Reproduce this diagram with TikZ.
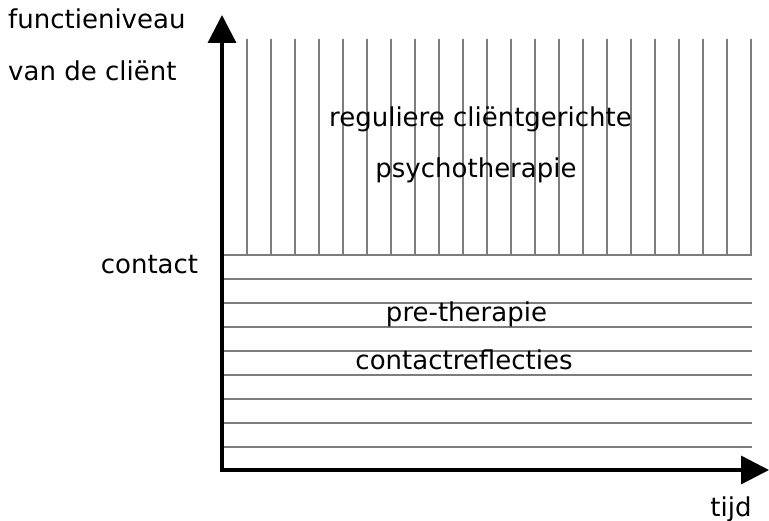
\documentclass[tikz,border=0pt]{standalone}
\usepackage{fontspec}
\setmainfont{DejaVu Sans}
\usetikzlibrary{arrows.meta}
\tikzset{
  axis/.style={line width=3.3pt, black, -{Triangle[length=28pt,width=28pt]}},
  grid line/.style={line width=2pt, color={rgb,255:red,125;green,125;blue,125}},
  lbl/.style={inner sep=0pt, font=\fontsize{26pt}{30pt}\selectfont},
}
\begin{document}
\begin{tikzpicture}[x=1pt,y=-1pt]
\useasboundingbox (0,0) rectangle (769,521);
% hatching
\foreach \k in {0,...,21}{
  \draw[grid line] ({247.3+24*\k},39) -- ({247.3+24*\k},254.7);
}
\foreach \j in {0,...,8}{
  \draw[grid line] (222,{254.7+24*\j}) -- (751.7,{254.7+24*\j});
}
% axes
\coordinate (o) at (222,470);
\coordinate (ytip) at (222,15);
\coordinate (xtip) at (769,470);
\draw[axis] ([yshift=-1.65pt]o) -- (ytip);
\draw[axis] ([xshift=-1.65pt]o) -- (xtip);
% labels
\node[lbl, anchor=base west] (f1) at (8,29) {functieniveau};
\node[lbl, anchor=base west] (f2) at (8,81) {van de cliënt};
\node[lbl, anchor=base] (r1) at (480.5,127) {reguliere cliëntgerichte};
\node[lbl, anchor=base] (r2) at (476,178) {psychotherapie};
\node[lbl, anchor=base east] (c) at (198.3,273.3) {contact};
\node[lbl, anchor=base] (p1) at (466.5,321.7) {pre-therapie};
\node[lbl, anchor=base] (p2) at (464,370) {contactreflecties};
\node[lbl, anchor=base east] (t) at (751.7,516) {tijd};
\end{tikzpicture}
\end{document}
